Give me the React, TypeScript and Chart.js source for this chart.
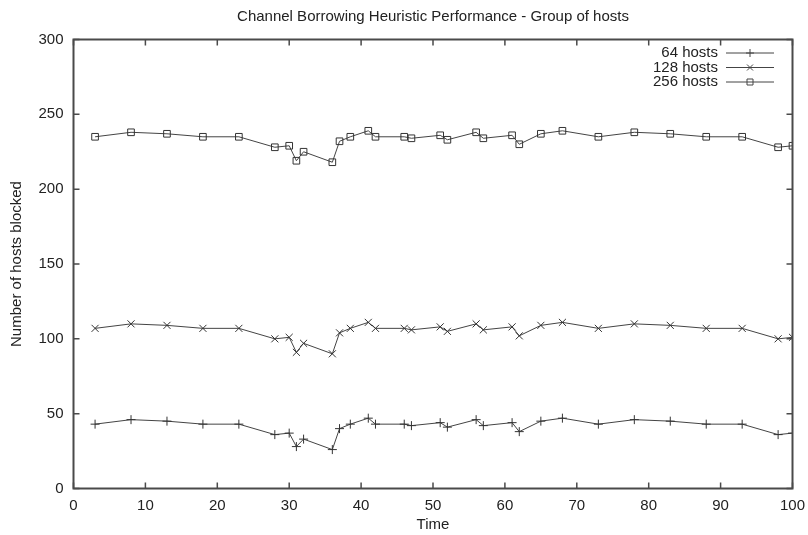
import React, { useEffect, useRef } from "react";
import { Chart, registerables } from "chart.js";

Chart.register(...registerables);

const times = [3, 8, 13, 18, 23, 28, 30, 31, 32, 36, 37, 38.5, 41, 42, 46, 47, 51, 52, 56, 57, 61, 62, 65, 68, 73, 78, 83, 88, 93, 98, 100];
const hosts64 = [43, 46, 45, 43, 43, 36, 37, 28, 33, 26, 40, 43, 47, 43, 43, 42, 44, 41, 46, 42, 44, 38, 45, 47, 43, 46, 45, 43, 43, 36, 37];
const hosts128 = [107, 110, 109, 107, 107, 100, 101, 91, 97, 90, 104, 107, 111, 107, 107, 106, 108, 105, 110, 106, 108, 102, 109, 111, 107, 110, 109, 107, 107, 100, 101];
const hosts256 = [235, 238, 237, 235, 235, 228, 229, 219, 225, 218, 232, 235, 239, 235, 235, 234, 236, 233, 238, 234, 236, 230, 237, 239, 235, 238, 237, 235, 235, 228, 229];
const seriesLabels = ["64 hosts", "128 hosts", "256 hosts"];
const seriesMarkers = ["cross", "crossRot", "rect"];
const xTicks = [0, 10, 20, 30, 40, 50, 60, 70, 80, 90, 100];
const yTicks = [0, 50, 100, 150, 200, 250, 300];
const chartTitle = "Channel Borrowing Heuristic Performance - Group of hosts";
const xTitle = "Time";
const yTitle = "Number of hosts blocked";

const FONT = "'Liberation Sans', Arial, sans-serif";
const LINE = "#444";
const TEXT = "#222";

function drawMarker(ctx: CanvasRenderingContext2D, style: string, x: number, y: number, r: number) {
  ctx.beginPath();
  if (style === "cross") {
    ctx.moveTo(x - r, y); ctx.lineTo(x + r, y);
    ctx.moveTo(x, y - r); ctx.lineTo(x, y + r);
  } else if (style === "crossRot") {
    const d = r * 0.75;
    ctx.moveTo(x - d, y - d); ctx.lineTo(x + d, y + d);
    ctx.moveTo(x - d, y + d); ctx.lineTo(x + d, y - d);
  } else {
    const d = r * 0.75;
    ctx.rect(x - d, y - d, d * 2, d * 2);
  }
  ctx.stroke();
}

const framePlugin = {
  id: "gnuplotFrame",
  afterDraw(chart: any) {
    const ctx: CanvasRenderingContext2D = chart.ctx;
    const { left, right, top, bottom } = chart.chartArea;
    const xs = chart.scales.x;
    const ys = chart.scales.y;
    ctx.save();
    ctx.strokeStyle = "#4a4a4a";
    ctx.lineWidth = 2;
    ctx.strokeRect(left, top, right - left, bottom - top);
    ctx.lineWidth = 1.5;
    ctx.beginPath();
    const tl = 6;
    xTicks.forEach((v) => {
      const px = xs.getPixelForValue(v);
      ctx.moveTo(px, bottom); ctx.lineTo(px, bottom - tl);
      ctx.moveTo(px, top); ctx.lineTo(px, top + tl);
    });
    yTicks.forEach((v) => {
      const py = ys.getPixelForValue(v);
      ctx.moveTo(left, py); ctx.lineTo(left + tl, py);
      ctx.moveTo(right, py); ctx.lineTo(right - tl, py);
    });
    ctx.stroke();

    // title
    ctx.fillStyle = TEXT;
    ctx.font = `15px ${FONT}`;
    ctx.textAlign = "center";
    ctx.textBaseline = "middle";
    ctx.fillText(chartTitle, (left + right) / 2, 17);

    // legend
    ctx.textAlign = "right";
    seriesLabels.forEach((lab, i) => {
      const y = 53 + i * 14.5;
      ctx.fillStyle = TEXT;
      ctx.fillText(lab, 718, y);
      ctx.strokeStyle = LINE;
      ctx.lineWidth = 1;
      ctx.beginPath();
      ctx.moveTo(726, y); ctx.lineTo(774, y);
      ctx.stroke();
      drawMarker(ctx, seriesMarkers[i], 750, y, 4);
    });
    ctx.restore();
  },
};

export default function App() {
  const ref = useRef<HTMLCanvasElement | null>(null);
  useEffect(() => {
    if (!ref.current) return;
    const mk = (label: string, values: number[], style: string) => ({
      label,
      data: times.map((t, i) => ({ x: t, y: values[i] })),
      borderColor: LINE,
      backgroundColor: "rgba(0,0,0,0)",
      borderWidth: 1,
      pointStyle: style,
      pointRadius: style === "cross" ? 4.5 : style === "rect" ? 4.7 : 5,
      pointBorderWidth: 1,
      pointBorderColor: "#333",
      pointBackgroundColor: "rgba(0,0,0,0)",
      showLine: true,
      tension: 0,
      fill: false,
    });
    const chart = new Chart(ref.current, {
      type: "scatter",
      data: {
        datasets: [
          mk(seriesLabels[0], hosts64, "cross"),
          mk(seriesLabels[1], hosts128, "crossRot"),
          mk(seriesLabels[2], hosts256, "rect"),
        ],
      },
      plugins: [framePlugin],
      options: {
        responsive: false,
        animation: false,
        devicePixelRatio: 1,
        layout: { padding: { top: 39.5, right: 15.5, left: 0, bottom: 0 } },
        plugins: { legend: { display: false }, title: { display: false }, tooltip: { enabled: false } },
        scales: {
          x: {
            type: "linear",
            min: 0,
            max: 100,
            afterBuildTicks: (s: any) => { s.ticks = xTicks.map((v) => ({ value: v })); },
            afterFit: (s: any) => { s.height = 46.5; s.paddingLeft = 0; s.paddingRight = 0; },
            grid: { display: false, drawTicks: false },
            border: { display: false },
            ticks: { color: TEXT, font: { family: FONT, size: 15 }, padding: 8, maxRotation: 0 },
            title: { display: true, text: xTitle, color: TEXT, font: { family: FONT, size: 15 }, padding: { top: 0, bottom: 1 } },
          },
          y: {
            type: "linear",
            min: 0,
            max: 300,
            afterBuildTicks: (s: any) => { s.ticks = yTicks.map((v) => ({ value: v })); },
            afterFit: (s: any) => { s.width = 73.5; s.paddingTop = 0; s.paddingBottom = 0; },
            grid: { display: false, drawTicks: false },
            border: { display: false },
            ticks: { color: TEXT, font: { family: FONT, size: 15 }, padding: 10 },
            title: { display: true, text: yTitle, color: TEXT, font: { family: FONT, size: 15 }, padding: { top: 8, bottom: 0 } },
          },
        },
      },
    });
    return () => chart.destroy();
  }, []);
  return (
    <div style={{ position: "absolute", left: 0, top: 0, width: 808, height: 535, background: "#fff" }}>
      <canvas ref={ref} width={808} height={535} style={{ width: 808, height: 535, display: "block" }} />
    </div>
  );
}
